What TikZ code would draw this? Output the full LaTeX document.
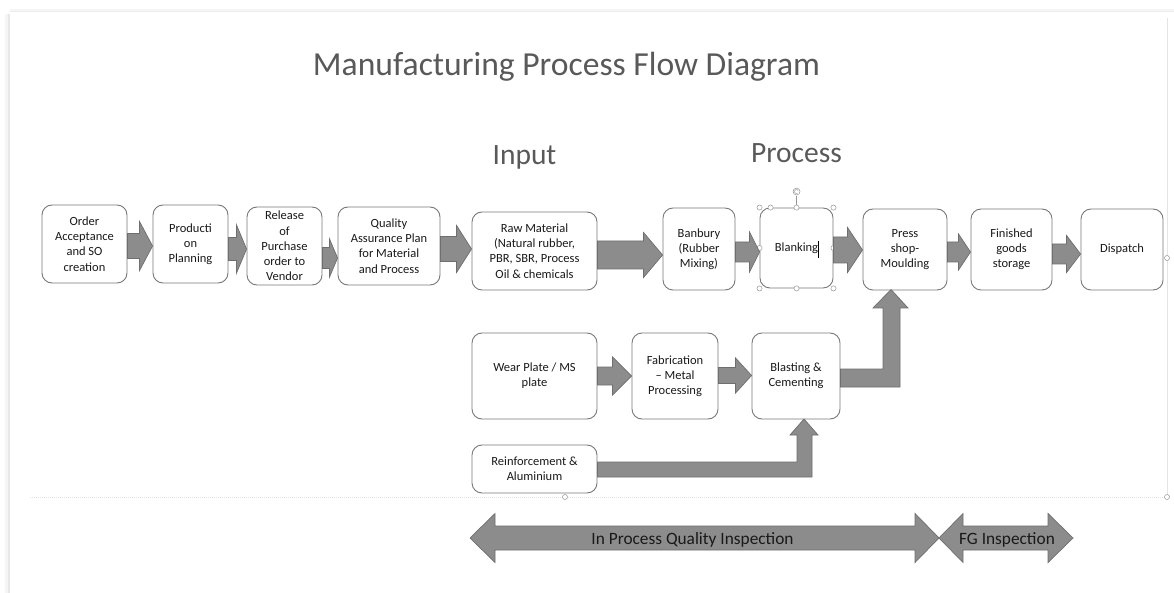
\documentclass[tikz,border=0pt]{standalone}
\usepackage{fontspec}
\setmainfont{Carlito}
\usetikzlibrary{calc}
\definecolor{arrowfill}{RGB}{140,140,140}
\definecolor{arrowline}{RGB}{110,110,110}
\definecolor{boxline}{RGB}{120,120,120}
\definecolor{titlegray}{RGB}{89,89,89}
\definecolor{handlegray}{RGB}{150,150,150}
\definecolor{faint}{RGB}{228,228,228}
\tikzset{
  procbox/.style={draw=boxline, line width=0.9pt, rounded corners=10pt, fill=white,
    align=center, inner sep=1pt, text=black!90,
    font=\fontsize{12.5}{15.2}\selectfont},
  barrow/.style={fill=arrowfill, draw=arrowline, line width=0.7pt, line join=miter},
  headtext/.style={text=titlegray, anchor=base},
  selhandle/.style={draw=handlegray, fill=white, line width=0.5pt},
}
% #1 from node, #2 to node, #3 centre y, #4 shaft half, #5 head half, #6 head length
\newcommand\harrow[6]{%
  \draw[barrow] let \p1=(#1.east), \p2=(#2.west) in
    (\x1,#3-#4) -- (\x2-#6,#3-#4) -- (\x2-#6,#3-#5) -- (\x2,#3) --
    (\x2-#6,#3+#5) -- (\x2-#6,#3+#4) -- (\x1,#3+#4) -- cycle;}
\begin{document}
\begin{tikzpicture}[x=1pt,y=1pt,yscale=-1]
\useasboundingbox (0,0) rectangle (1174,593);
% page and its shadow
\fill[white] (0,0) rectangle (1174,593);
\fill[black!4] (5,14) rectangle (10,593);
\fill[black!9] (8,14) rectangle (10,593);
\fill[black!4] (10,9) rectangle (1174,12);
\fill[black!7] (10,11) rectangle (1174,12);
% faint selection frame of the slide
\draw[faint, line width=0.6pt] (1167,18) -- (1167,497);
\draw[faint, line width=0.6pt, dash pattern=on 1pt off 1pt] (30,497) -- (1167,497);
\draw[selhandle] (565,497) circle (2.5);
\draw[selhandle] (1167,497) circle (2.5);
\draw[selhandle] (1167,258) circle (2.5);

% headings
\node[headtext, font=\fontsize{33.6}{40}\selectfont] (title) at (566.5,76) {Manufacturing Process Flow Diagram};
\node[headtext, font=\fontsize{29.5}{35}\selectfont] (input) at (524.5,165) {Input};
\node[headtext, font=\fontsize{29.5}{35}\selectfont] (process) at (796.5,163) {Process};

% boxes
\node[procbox, minimum width=85, minimum height=78] (b1) at (84.5,244) {Order\\Acceptance\\and SO\\creation};
\node[procbox, minimum width=75, minimum height=78] (b2) at (190.5,244) {Producti\\on\\Planning};
\node[procbox, minimum width=75, minimum height=78] (b3) at (284.5,246) {Release\\of\\Purchase\\order to\\Vendor};
\node[procbox, minimum width=102, minimum height=78] (b4) at (389,246) {Quality\\Assurance Plan\\for Material\\and Process};
\node[procbox, minimum width=125, minimum height=78] (b5) at (534.5,251) {Raw Material\\(Natural rubber,\\PBR, SBR, Process\\Oil \& chemicals};
\node[procbox, minimum width=72, minimum height=82] (b6) at (699,249) {Banbury\\(Rubber\\Mixing)};
\node[procbox, minimum width=73, minimum height=80] (b7) at (796.5,248) {Blanking};
\node[procbox, minimum width=84, minimum height=81] (b8) at (905,249.5) {Press\\shop-\\Moulding};
\node[procbox, minimum width=81, minimum height=81] (b9) at (1011.5,249.5) {Finished\\goods\\storage};
\node[procbox, minimum width=82, minimum height=81] (b10) at (1122,249.5) {Dispatch};
\node[procbox, minimum width=125, minimum height=86] (b11) at (534.5,376) {Wear Plate / MS\\plate};
\node[procbox, minimum width=86, minimum height=86] (b12) at (675,376) {Fabrication\\– Metal\\Processing};
\node[procbox, minimum width=88, minimum height=86] (b13) at (796,376) {Blasting \&\\Cementing};
\node[procbox, minimum width=125, minimum height=48] (b14) at (534.5,469) {Reinforcement \&\\Aluminium};

% selection handles on Blanking
\draw[handlegray, line width=0.5pt] (b7.north) -- ++(0,-12);
\draw[selhandle] ($(b7.north)+(0,-16)$) circle (3.5);
\draw[handlegray, line width=0.5pt] ($(b7.north)+(0,-16)$) ++(60:2) arc (60:330:2);
\foreach \a in {north west,north,north east,west,east,south west,south,south east}
  \draw[selhandle] (b7.\a) circle (2.6);
\draw[selhandle] ($(b7.north west)+(11,0)$) circle (2.6);
\draw[black, line width=0.5pt] (818,241) -- (818,258);

% block arrows, top row
\harrow{b1}{b2}{246}{12.5}{24.5}{13}
\harrow{b2}{b3}{249}{11.5}{24}{10}
\harrow{b3}{b4}{258}{10.5}{19}{8}
\harrow{b4}{b5}{249}{12.5}{23.5}{15}
\harrow{b5}{b6}{255}{14}{22.5}{19}
\harrow{b6}{b7}{252}{10}{20}{10}
\harrow{b7}{b8}{250}{13}{22.5}{15}
\harrow{b8}{b9}{252}{10}{18}{12}
\harrow{b9}{b10}{254}{10}{18.5}{14}
% middle row
\harrow{b11}{b12}{376}{9}{19}{19}
\harrow{b12}{b13}{375.5}{8}{17.5}{16}
% elbow arrows
\draw[barrow] let \p1=(b13.east) in
  (\x1,369) -- (883,369) -- (883,308) -- (873,308) -- (891,289.5) --
  (908,308) -- (900,308) -- (900,387) -- (\x1,387) -- cycle;
\draw[barrow] let \p1=(b14.east) in
  (\x1,462) -- (797,462) -- (797,435) -- (790,435) -- (804,419) --
  (818,435) -- (812,435) -- (812,477) -- (\x1,477) -- cycle;

% inspection double arrows
\draw[barrow] (470,538) -- (495,513.5) -- (495,526) -- (915,526) -- (915,513.5) -- (939,538) --
  (915,562.5) -- (915,550) -- (495,550) -- (495,562.5) -- cycle;
\draw[barrow] (939,538) -- (963,513.5) -- (963,526) -- (1048,526) -- (1048,513.5) -- (1073,538) --
  (1048,562.5) -- (1048,550) -- (963,550) -- (963,562.5) -- cycle;
\node[anchor=base, text=black!90, font=\fontsize{17.3}{20}\selectfont] (ipqi) at (692.5,544) {In Process Quality Inspection};
\node[anchor=base, text=black!90, font=\fontsize{17.3}{20}\selectfont] (fgi) at (1007,544) {FG Inspection};
\end{tikzpicture}
\end{document}
